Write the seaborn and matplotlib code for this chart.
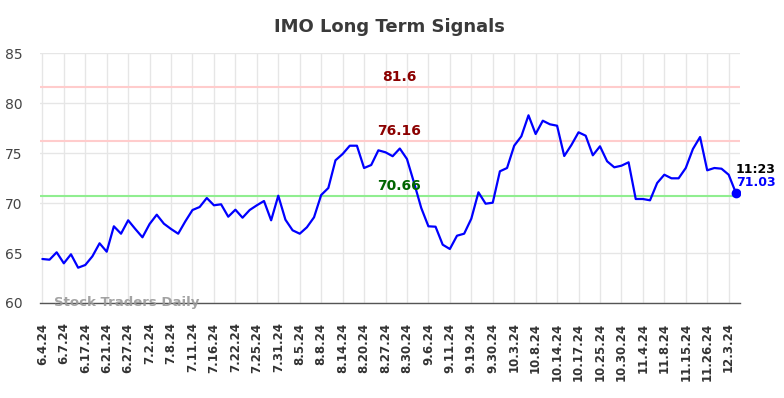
import matplotlib
matplotlib.use("Agg")
import matplotlib.pyplot as plt
import matplotlib.transforms as mtransforms
import numpy as np
import pandas as pd
import seaborn as sns

TICKER = "IMO"

# closing values, one per session
prices = [
    64.40, 64.33, 65.07, 63.97, 64.87, 63.53, 63.80, 64.67, 65.97, 65.13,
    67.67, 66.93, 68.27, 67.40, 66.57, 67.90, 68.83, 67.93, 67.40, 66.93,
    68.17, 69.30, 69.60, 70.50, 69.77, 69.87, 68.63, 69.33, 68.53, 69.30,
    69.77, 70.20, 68.27, 70.73, 68.33, 67.27, 66.93, 67.57, 68.57, 70.80,
    71.50, 74.27, 74.90, 75.73, 75.73, 73.50, 73.80, 75.27, 75.07, 74.68,
    75.45, 74.40, 72.00, 69.50, 67.67, 67.63, 65.83, 65.40, 66.73, 66.93,
    68.43, 71.07, 69.93, 70.03, 73.17, 73.50, 75.73, 76.67, 78.77, 76.90,
    78.23, 77.87, 77.73, 74.70, 75.80, 77.07, 76.73, 74.77, 75.67, 74.17,
    73.57, 73.73, 74.07, 70.40, 70.40, 70.27, 72.00, 72.83, 72.47, 72.47,
    73.50, 75.40, 76.60, 73.27, 73.50, 73.43, 72.83, 71.03,
]

tick_labels = [
    "6.4.24", "6.7.24", "6.17.24", "6.21.24", "6.27.24", "7.2.24", "7.8.24",
    "7.11.24", "7.16.24", "7.22.24", "7.25.24", "7.31.24", "8.5.24", "8.8.24",
    "8.14.24", "8.20.24", "8.27.24", "8.30.24", "9.6.24", "9.11.24", "9.19.24",
    "9.30.24", "10.3.24", "10.8.24", "10.14.24", "10.17.24", "10.25.24",
    "10.30.24", "11.4.24", "11.8.24", "11.15.24", "11.26.24", "12.3.24",
]
tick_step = 3

resistance_levels = [81.6, 76.16]
support_levels = [70.66]
last_time = "11:23"
last_value = 71.03

df = pd.DataFrame({"idx": np.arange(len(prices)), "price": prices})

sns.set_style("whitegrid")
plt.rcParams["font.family"] = ["DejaVu Sans"]

fig = plt.figure(figsize=(7.84, 3.98), dpi=100)
ax = fig.add_axes([0.0504, 0.2387, 0.8936, 0.6281])

sns.lineplot(data=df, x="idx", y="price", ax=ax, color="#0000ff", linewidth=1.6)

# signal levels
for lvl in resistance_levels:
    ax.axhline(lvl, color="#ffcccc", linewidth=1.5, zorder=1)
for lvl in support_levels:
    ax.axhline(lvl, color="#90ee90", linewidth=1.5, zorder=1)

trans = mtransforms.blended_transform_factory(ax.transAxes, ax.transData)
for lvl in resistance_levels:
    ax.text(0.513, lvl + 0.3, f"{lvl:g}", transform=trans, ha="center", va="bottom",
            color="#8b0000", fontsize=10, fontweight="bold")
for lvl in support_levels:
    ax.text(0.513, lvl + 0.3, f"{lvl:g}", transform=trans, ha="center", va="bottom",
            color="#006400", fontsize=10, fontweight="bold")

# last point
last_idx = len(prices) - 1
ax.plot(last_idx, prices[-1], "o", color="#0000ff", markersize=6, zorder=5)
ax.annotate(last_time, (last_idx, prices[-1]), xytext=(0, 17), textcoords="offset points",
            ha="left", va="center", fontsize=9, fontweight="bold", color="black")
ax.annotate(f"{last_value:.2f}", (last_idx, prices[-1]), xytext=(0, 7), textcoords="offset points",
            ha="left", va="center", fontsize=9, fontweight="bold", color="#0000ff")

ax.text(0.02, 60, "Stock Traders Daily", transform=trans, ha="left", va="center",
        color="#999999", fontsize=9.5, fontweight="bold", alpha=0.9)

ax.set_xlim(-0.4, 97.6)
ax.set_ylim(60, 85)
ax.set_yticks([60, 65, 70, 75, 80, 85])
ax.set_xticks(np.arange(0, len(tick_labels) * tick_step, tick_step))
ax.set_xticklabels(tick_labels, rotation=90, fontsize=8.5, fontweight="bold", color="#333333")
ax.tick_params(axis="y", labelsize=10, labelcolor="#444444", length=0, pad=12)
ax.tick_params(axis="x", length=0, pad=14)
ax.set_xlabel("")
ax.set_ylabel("")
ax.grid(True, color="#e6e6e6", linewidth=1)
for side in ["top", "right", "left"]:
    ax.spines[side].set_visible(False)
ax.spines["bottom"].set_color("#555555")
ax.spines["bottom"].set_linewidth(1)

fig.suptitle(f"{TICKER} Long Term Signals", x=0.497, y=0.955, fontsize=13,
             fontweight="bold", color="#3a3a3a")

fig.savefig("out.png", dpi=100)
